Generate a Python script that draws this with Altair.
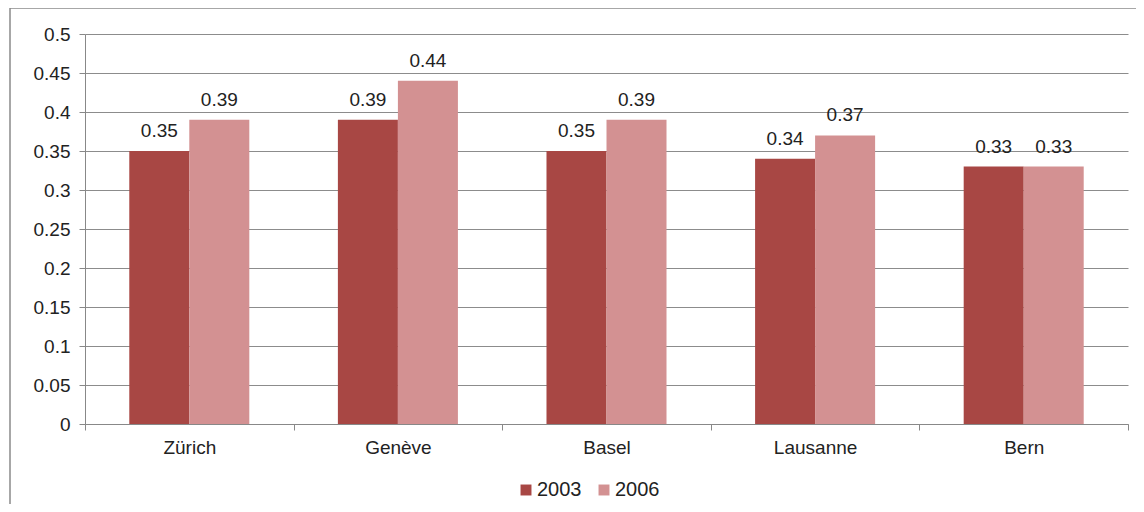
import altair as alt
import pandas as pd

cities = ["Zürich", "Genève", "Basel", "Lausanne", "Bern"]
values_2003 = [0.35, 0.39, 0.35, 0.34, 0.33]
values_2006 = [0.39, 0.44, 0.39, 0.37, 0.33]
years = ["2003", "2006"]
colors = ["#A84744", "#D39192"]
y_ticks = [0, 0.05, 0.1, 0.15, 0.2, 0.25, 0.3, 0.35, 0.4, 0.45, 0.5]

rows = []
for c, v in zip(cities, values_2003):
    rows.append({"city": c, "year": "2003", "value": v})
for c, v in zip(cities, values_2006):
    rows.append({"city": c, "year": "2006", "value": v})
df = pd.DataFrame(rows)

FONT = "Liberation Sans"
TXT = "#222222"

x_enc = alt.X(
    "city:N",
    sort=cities,
    title=None,
    scale=alt.Scale(paddingInner=0, paddingOuter=0),
    axis=alt.Axis(
        labelAngle=0,
        labelFontSize=19,
        labelFont=FONT,
        labelColor=TXT,
        labelPadding=8,
        tickBand="extent",
        tickSize=6,
        tickColor="#888888",
        domainColor="#888888",
        grid=False,
    ),
)
y_enc = alt.Y(
    "value:Q",
    title=None,
    scale=alt.Scale(domain=[0, 0.5], nice=False),
    axis=alt.Axis(
        values=y_ticks,
        format=".2~f",
        labelOverlap=False,
        labelFontSize=19,
        labelFont=FONT,
        labelColor=TXT,
        labelPadding=9,
        tickSize=6,
        tickColor="#888888",
        domainColor="#888888",
        gridColor="#8c8c8c",
        gridWidth=1,
    ),
)
xoff = alt.XOffset(
    "year:N", sort=years, scale=alt.Scale(paddingInner=0, paddingOuter=0.738)
)

bars = alt.Chart(df).mark_bar().encode(
    x=x_enc,
    y=y_enc,
    xOffset=xoff,
    color=alt.Color(
        "year:N",
        sort=years,
        scale=alt.Scale(domain=years, range=colors),
        legend=alt.Legend(
            title=None,
            orient="none",
            legendX=431,
            legendY=446,
            direction="horizontal",
            symbolType="square",
            symbolSize=120,
            symbolStrokeWidth=0,
            labelFontSize=20,
            labelFont=FONT,
            labelColor=TXT,
            labelOffset=1,
            columnPadding=12,
        ),
    ),
)

labels = alt.Chart(df).mark_text(
    baseline="bottom", dy=-10, fontSize=19, font=FONT, color=TXT
).encode(
    x=x_enc,
    y=y_enc,
    xOffset=xoff,
    text=alt.Text("value:Q", format=".2f"),
)

frame_df = pd.DataFrame({"a": [0]})
frame = alt.Chart(frame_df).mark_rect(
    fill="transparent", stroke="#8a8a8a", strokeWidth=1.5
).encode(
    x=alt.value(-75), x2=alt.value(1100), y=alt.value(-26), y2=alt.value(520)
)

chart = (
    alt.layer(frame, bars, labels)
    .properties(
        width=1043,
        height=390,
        autosize=alt.AutoSizeParams(type="none"),
        padding={"left": 77, "top": 26, "right": 8, "bottom": 80},
        background="white",
    )
    .configure_view(strokeWidth=0)
)

chart.save("out.html", embed_options={"renderer": "svg", "actions": False})
